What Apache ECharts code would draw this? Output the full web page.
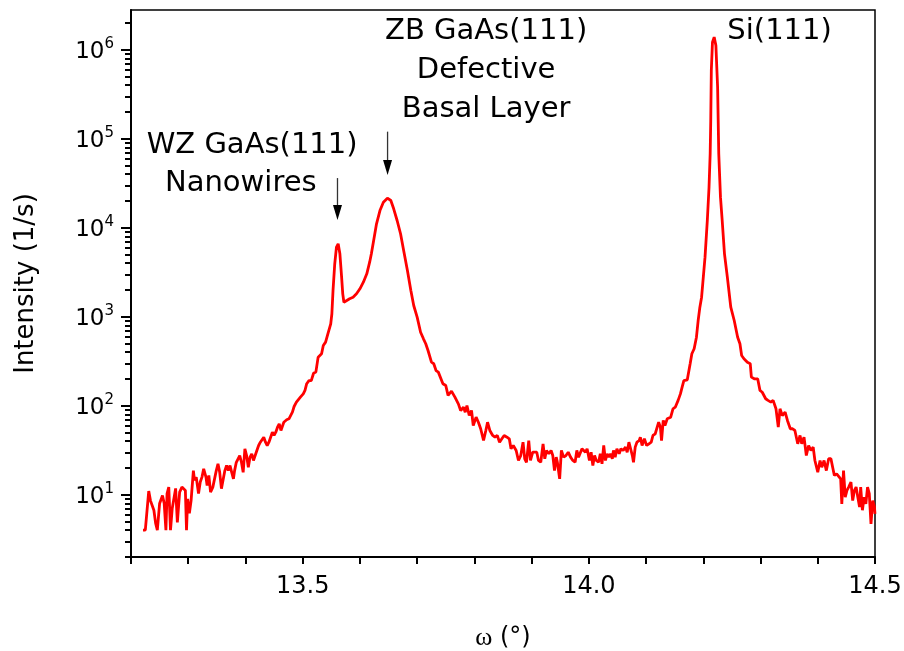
<!DOCTYPE html>
<html><head><meta charset="utf-8">
<script src="https://cdn.jsdelivr.net/npm/echarts@6/dist/echarts.min.js"></script>
<style>html,body{margin:0;padding:0;background:#fff}#c{width:904px;height:651px}</style>
</head><body><div id="c"></div>
<script>
// omega (deg)
const omega = [
13.221,13.225,13.231,13.234,13.237,13.240,13.243,13.246,13.250,13.253,13.255,13.258,13.261,13.263,13.266,13.269,13.272,13.275,13.278,13.281,
13.285,13.289,13.292,13.295,13.297,13.299,13.302,13.305,13.309,13.311,13.314,13.318,13.321,13.324,13.327,13.331,13.333,13.336,13.339,13.343,
13.346,13.349,13.352,13.355,13.358,13.361,13.364,13.367,13.370,13.373,13.376,13.379,13.381,13.384,13.387,13.390,13.393,13.396,13.399,13.402,
13.405,13.408,13.411,13.414,13.418,13.421,13.423,13.426,13.429,13.432,13.435,13.438,13.441,13.444,13.447,13.450,13.453,13.456,13.459,13.462,
13.464,13.467,13.472,13.476,13.479,13.482,13.485,13.489,13.492,13.496,13.501,13.504,13.507,13.511,13.515,13.519,13.523,13.527,13.530,13.533,
13.536,13.540,13.544,13.549,13.551,13.553,13.556,13.559,13.562,13.565,13.568,13.570,13.572,13.577,13.582,13.588,13.594,13.600,13.606,13.612,
13.617,13.620,13.624,13.629,13.635,13.641,13.648,13.654,13.659,13.665,13.671,13.677,13.683,13.689,13.694,13.700,13.706,13.711,13.715,13.719,
13.725,13.729,13.733,13.737,13.740,13.745,13.750,13.754,13.760,13.766,13.772,13.776,13.781,13.784,13.787,13.791,13.795,13.798,13.803,13.807,
13.811,13.816,13.820,13.823,13.827,13.832,13.836,13.840,13.844,13.848,13.852,13.857,13.861,13.864,13.868,13.873,13.877,13.881,13.885,13.888,
13.891,13.895,13.898,13.902,13.905,13.909,13.912,13.916,13.920,13.923,13.926,13.930,13.934,13.937,13.940,13.943,13.945,13.949,13.952,13.956,
13.960,13.964,13.968,13.972,13.976,13.979,13.982,13.985,13.988,13.991,13.994,13.997,14.001,14.004,14.007,14.010,14.013,14.017,14.020,14.023,
14.026,14.029,14.032,14.035,14.038,14.041,14.043,14.046,14.049,14.053,14.056,14.060,14.064,14.067,14.070,14.073,14.076,14.078,14.081,14.084,
14.088,14.090,14.093,14.097,14.101,14.105,14.109,14.112,14.116,14.119,14.122,14.125,14.127,14.130,14.133,14.137,14.143,14.147,14.151,14.156,
14.160,14.163,14.166,14.172,14.177,14.180,14.184,14.188,14.191,14.194,14.197,14.199,14.203,14.207,14.210,14.212,14.213,14.214,14.216,14.219,
14.222,14.225,14.227,14.230,14.233,14.237,14.242,14.248,14.254,14.260,14.264,14.267,14.271,14.277,14.282,14.284,14.289,14.295,14.299,14.303,
14.309,14.313,14.318,14.322,14.327,14.331,14.334,14.338,14.343,14.347,14.352,14.356,14.360,14.365,14.369,14.372,14.376,14.380,14.384,14.388,
14.392,14.395,14.400,14.404,14.407,14.411,14.415,14.419,14.423,14.426,14.429,14.433,14.436,14.440,14.442,14.445,14.448,14.451,14.454,14.458,
14.461,14.464,14.467,14.470,14.473,14.475,14.478,14.481,14.484,14.487,14.490,14.493,14.496,14.499,14.500
];
// intensity (1/s)
const intensity = [
4.0,4.0,11.0,8.6,9.0,6.7,4.8,4.0,8.0,7.6,9.8,8.0,4.0,10.3,12.2,4.0,7.0,6.7,11.8,4.9,
10.7,12.2,12.2,11.2,4.0,9.0,6.2,8.6,18.7,14.5,15.8,10.3,13.9,15.8,19.6,15.8,12.7,16.5,10.7,12.2,
12.2,18.7,22.3,17.9,11.7,11.2,18.7,21.3,18.7,21.3,17.9,15.1,18.7,23.2,24.3,27.6,23.2,17.9,32.9,27.6,
20.4,26.5,28.9,24.3,28.9,32.9,35.8,39.0,40.7,44.4,39.0,35.8,39.0,44.4,50.5,46.4,50.5,57.5,62.8,52.8,
52.8,65.4,69.6,71.4,74.5,84.7,98.2,110,105,125,136,149,177,192,192,232,239,352,367,384,
476,519,644,834,1081,1977,3942,6054,6607,5100,2787,1812,1459,1524,1593,1660,1812,2064,2448,3041,
4105,5100,7196,11090,15630,19400,21520,20270,16340,12080,8570,5320,3312,1977,1340,990,671,566,498,418,
309,297,249,239,239,177,169,131,146,125,105,88.5,96.4,84.7,100.7,77.8,88.5,60.1,74.5,65.4,
55.2,40.7,52.8,65.4,52.8,46.4,44.4,46.4,39.0,42.6,46.4,44.4,42.6,32.9,35.8,31.5,24.3,27.6,39.0,25.4,
23.2,40.7,24.3,30.1,31.5,30.1,24.3,23.2,37.4,25.4,31.5,28.9,31.5,27.6,18.7,26.5,23.2,15.1,31.5,26.5,
27.6,30.1,26.5,24.3,23.2,31.5,26.5,26.5,32.9,34.3,30.1,32.9,24.3,30.1,21.3,27.6,24.3,23.2,28.9,22.3,
35.8,24.3,28.9,26.5,28.9,25.4,31.5,26.5,32.9,28.9,32.9,31.5,34.3,30.1,39.0,32.9,27.6,23.2,34.3,39.0,
40.7,44.4,35.8,42.6,35.8,37.4,39.0,46.4,48.5,48.5,65.4,57.5,40.7,68.4,60.1,71.4,74.5,92.5,96.4,115,
136,162,192,196,297,384,437,590,908,1282,1660,2348,4673,12080,28580,67800,160600,585000,1217000,1387000,
1117000,380000,67800,22080,12080,5100,2787,1282,908,590,498,367,338,309,297,210,201,201,149,142,
120,115,110,115,92.5,57.5,92.5,77.8,84.7,68.4,55.2,55.2,52.8,37.4,46.4,37.4,44.4,27.6,35.8,31.5,
34.3,24.3,17.9,24.3,20.4,24.3,18.7,25.4,25.4,20.4,16.5,17.2,16.5,15.1,7.9,18.7,9.4,11.2,12.2,13.9,
8.6,11.2,12.2,9.4,7.3,12.2,6.7,9.4,7.9,12.2,10.3,4.7,8.6,7.3,6.1
];
const xLabelTicks = [13.5, 14.0, 14.5];
const yMajorTicks = [10, 100, 1000, 10000, 100000, 1000000];
const yMinorMultipliers = [2, 3, 4, 5, 6, 7, 8, 9];
const yMinorTicks = [];
[1, 10, 100, 1000, 10000, 100000, 1000000].forEach(d => yMinorMultipliers.forEach(m => yMinorTicks.push(m * d)));

const annotations = [
  { text: 'WZ GaAs(111)', x: 13.4116, y: 83200 },
  { text: 'Nanowires', x: 13.3919, y: 31200 },
  { text: 'ZB GaAs(111)\nDefective\nBasal Layer', x: 13.8205, y: 585000 },
  { text: 'Si(111)', x: 14.3333, y: 1597000 }
];
const arrows = [
  { x: 13.5608, from: 36200, to: 12200 },
  { x: 13.6483, from: 120300, to: 39200 }
];

const FONT = '"DejaVu Sans", Verdana, sans-serif';
const chart = echarts.init(document.getElementById('c'), null, { renderer: 'canvas' });
const YMIN = 2, YMAX = 2.8e6;
chart.setOption({
  animation: false,
  backgroundColor: '#fff',
  grid: { left: 131, right: 29, top: 10, bottom: 94, show: true, borderColor: '#000', borderWidth: 1.5, containLabel: false, outerBoundsMode: 'none' },
  xAxis: {
    type: 'value', min: 13.2, max: 14.5, interval: 0.1,
    name: '{w|ω} (°)', nameLocation: 'middle', nameGap: 68,
    nameTextStyle: {
      fontSize: 24, color: '#000', fontFamily: FONT,
      rich: { w: { fontSize: 26, fontFamily: '"Liberation Serif", "DejaVu Serif", serif', color: '#000' } }
    },
    axisLine: { show: true, onZero: false, lineStyle: { color: '#000', width: 2 } },
    axisTick: { show: true, inside: false, length: 7, lineStyle: { color: '#000', width: 2 } },
    axisLabel: {
      show: true, margin: 18, fontSize: 24, color: '#000', fontFamily: FONT,
      formatter: v => xLabelTicks.some(t => Math.abs(t - v) < 1e-6) ? v.toFixed(1) : ''
    },
    splitLine: { show: false }
  },
  yAxis: [{
    type: 'log', logBase: 10, min: YMIN, max: YMAX, position: 'left',
    name: 'Intensity (1/s)', nameLocation: 'middle', nameGap: 92, nameRotate: 90,
    nameTextStyle: { fontSize: 26, color: '#000', fontFamily: FONT },
    axisLine: { show: true, onZero: false, lineStyle: { color: '#000', width: 2 } },
    axisTick: { show: true, length: 10, customValues: yMajorTicks, lineStyle: { color: '#000', width: 2 } },
    axisLabel: {
      show: true, margin: 17, customValues: yMajorTicks, color: '#000', fontFamily: FONT,
      formatter: v => '{b|10}{sup|' + Math.round(Math.log10(v)) + '}',
      rich: {
        b: { fontSize: 23, lineHeight: 27, verticalAlign: 'bottom', fontFamily: FONT, color: '#000' },
        sup: { fontSize: 15, lineHeight: 15, verticalAlign: 'top', fontFamily: FONT, color: '#000' }
      }
    },
    splitLine: { show: false }
  }, {
    type: 'log', logBase: 10, min: YMIN, max: YMAX, position: 'left',
    axisLine: { show: false },
    axisTick: { show: true, length: 6, customValues: yMinorTicks, lineStyle: { color: '#000', width: 2 } },
    axisLabel: { show: false },
    splitLine: { show: false }
  }],
  series: [{
    type: 'line', xAxisIndex: 0, yAxisIndex: 0, showSymbol: false, clip: true,
    lineStyle: { color: '#ff0000', width: 2.8 },
    data: omega.map((x, i) => [x, intensity[i]])
  }]
});

function drawAnnotations() {
  const g = [];
  annotations.forEach(a => {
    const p = chart.convertToPixel({ gridIndex: 0 }, [a.x, a.y]);
    g.push({ type: 'text', silent: true, z: 10, style: { text: a.text, x: p[0], y: p[1], align: 'center', verticalAlign: 'middle', font: '29px ' + FONT, fill: '#000', lineHeight: 39 } });
  });
  arrows.forEach(a => {
    const p0 = chart.convertToPixel({ gridIndex: 0 }, [a.x, a.from]);
    const p1 = chart.convertToPixel({ gridIndex: 0 }, [a.x, a.to]);
    g.push({ type: 'line', silent: true, z: 10, shape: { x1: p0[0], y1: p0[1], x2: p1[0], y2: p1[1] - 12 }, style: { stroke: '#333', lineWidth: 1.3 } });
    g.push({ type: 'polygon', silent: true, z: 10, shape: { points: [[p1[0] - 4.5, p1[1] - 15], [p1[0] + 4.5, p1[1] - 15], [p1[0], p1[1]]] }, style: { fill: '#000' } });
  });
  chart.setOption({ graphic: g });
}
drawAnnotations();
</script>
</body></html>
